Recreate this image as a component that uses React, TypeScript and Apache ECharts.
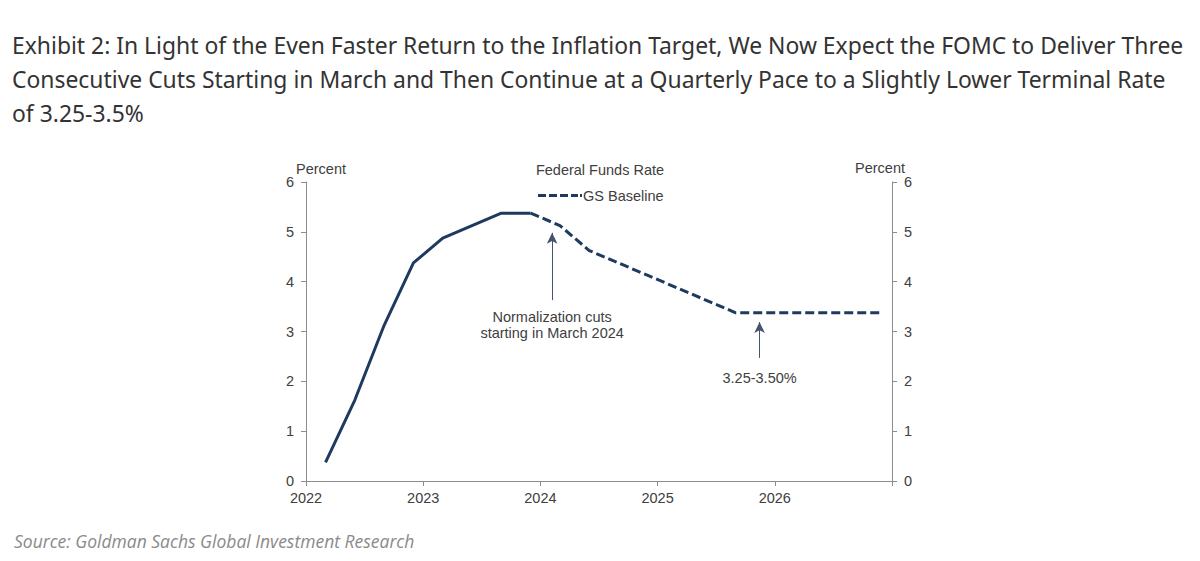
import React, { useEffect, useRef } from "react";
import * as echarts from "echarts";

const titleLines = [
  "Exhibit 2: In Light of the Even Faster Return to the Inflation Target, We Now Expect the FOMC to Deliver Three",
  "Consecutive Cuts Starting in March and Then Continue at a Quarterly Pace to a Slightly Lower Terminal Rate",
  "of 3.25-3.5%",
];
const sourceText = "Source: Goldman Sachs Global Investment Research";
const chartTitle = "Federal Funds Rate";
const yAxisName = "Percent";

const actualDates = ["2022-03", "2022-06", "2022-09", "2022-12", "2023-03", "2023-06", "2023-09", "2023-12"];
const actualValues = [0.375, 1.625, 3.125, 4.375, 4.875, 5.125, 5.375, 5.375];

const baselineDates = [
  "2023-12", "2024-03", "2024-06", "2024-09", "2024-12", "2025-03", "2025-06",
  "2025-09", "2025-12", "2026-03", "2026-06", "2026-09", "2026-12",
];
const baselineValues = [5.375, 5.125, 4.625, 4.375, 4.125, 3.875, 3.625, 3.375, 3.375, 3.375, 3.375, 3.375, 3.375];

const yearTicks = [2022, 2023, 2024, 2025, 2026];

// annotation arrows in data coordinates: [x, yFrom, yTo]
const arrow1 = [2024.1, 3.63, 4.98];
const arrow1Text = "Normalization cuts\nstarting in March 2024";
const arrow2 = [2025.87, 2.47, 3.19];
const arrow2Text = "3.25-3.50%";

const toYear = (d: string) => {
  const [y, m] = d.split("-").map(Number);
  return y + (m - 1) / 12;
};

const NAVY = "#1f3a5f";
const TEXT = "#404040";
const AXIS = "#8c8c8c";
const FONT = "'Liberation Sans', Arial, sans-serif";
const FS = 14.5;
const DASH_ICON = "path://M0,0h8v3h-8z M11,0h8v3h-8z M22,0h8v3h-8z M33,0h7v3h-7z M42,0h2v3h-2z";

export default function App() {
  const ref = useRef<HTMLDivElement>(null);
  useEffect(() => {
    if (!ref.current) return;
    const chart = echarts.init(ref.current, undefined, { renderer: "svg" });
    const axisLabel = { color: TEXT, fontFamily: FONT, fontSize: FS };
    const yAxisBase = {
      type: "value" as const,
      min: 0,
      max: 6,
      interval: 1,
      splitLine: { show: false },
      axisLine: { show: true, lineStyle: { color: AXIS, width: 1 } },
      axisTick: { show: true, length: 5, lineStyle: { color: AXIS } },
    };
    const arrowLine = (a: number[], text: string, dist: number) => [
      {
        coord: [a[0], a[1]],
        symbol: "none",
        label: {
          show: true,
          position: "start",
          formatter: text,
          color: TEXT,
          fontFamily: FONT,
          fontSize: FS,
          lineHeight: 16,
          align: "center",
          distance: dist,
        },
      },
      { coord: [a[0], a[2]], symbol: "arrow", symbolSize: [8, 11] },
    ];
    chart.setOption({
      animation: false,
      grid: { left: 306, right: 308, top: 182, bottom: 80 },
      legend: {
        data: [{ name: "GS Baseline", icon: DASH_ICON }],
        left: 538,
        top: 188,
        padding: 0,
        itemWidth: 44,
        itemHeight: 3,
        itemStyle: { color: NAVY },
        textStyle: { color: TEXT, fontFamily: FONT, fontSize: FS, padding: [0, 0, 0, -4] },
      },
      xAxis: {
        type: "value",
        min: 2022,
        max: 2027,
        interval: 1,
        splitLine: { show: false },
        axisLine: { lineStyle: { color: AXIS, width: 1 } },
        axisTick: { show: true, length: 5, lineStyle: { color: AXIS } },
        axisLabel: {
          ...axisLabel,
          margin: 9,
          formatter: (v: number) => (yearTicks.includes(v) ? String(v) : ""),
        },
      },
      yAxis: [
        { ...yAxisBase, position: "left", axisLabel: { ...axisLabel, margin: 12 } },
        { ...yAxisBase, position: "right", axisLabel: { ...axisLabel, margin: 12 } },
      ],
      series: [
        {
          name: "Federal Funds Rate",
          type: "line",
          symbol: "none",
          data: actualDates.map((d, i) => [toYear(d), actualValues[i]]),
          lineStyle: { color: NAVY, width: 3 },
          itemStyle: { color: NAVY },
        },
        {
          name: "GS Baseline",
          type: "line",
          symbol: "none",
          data: baselineDates.map((d, i) => [toYear(d), baselineValues[i]]),
          lineStyle: { color: NAVY, width: 3, type: [9, 4] },
          itemStyle: { color: NAVY },
          markLine: {
            silent: true,
            animation: false,
            lineStyle: { color: "#44546a", width: 1, type: "solid" },
            itemStyle: { color: NAVY },
            emphasis: { disabled: true },
            data: [arrowLine(arrow1, arrow1Text, 9), arrowLine(arrow2, arrow2Text, 12)],
          },
        },
      ],
      graphic: [
        {
          type: "text",
          left: 12,
          top: 28,
          style: {
            text: titleLines.join("\n"),
            fill: "#333333",
            font: "22.9px 'Noto Sans', sans-serif",
            lineHeight: 34,
          },
        },
        {
          type: "text",
          x: 14,
          y: 541,
          style: {
            text: sourceText,
            fill: "#8a8a8a",
            font: "italic 17.5px 'Open Sans', sans-serif",
            verticalAlign: "middle",
          },
        },
        {
          type: "text",
          x: 600,
          y: 170,
          style: {
            text: chartTitle,
            fill: TEXT,
            font: `${FS}px ${FONT}`,
            align: "center",
            verticalAlign: "middle",
          },
        },
        {
          type: "text",
          x: 296,
          y: 169,
          style: { text: yAxisName, fill: TEXT, font: `${FS}px ${FONT}`, align: "left", verticalAlign: "middle" },
        },
        {
          type: "text",
          x: 905,
          y: 168,
          style: { text: yAxisName, fill: TEXT, font: `${FS}px ${FONT}`, align: "right", verticalAlign: "middle" },
        },
      ],
    });
    return () => chart.dispose();
  }, []);
  return (
    <div
      ref={ref}
      style={{ position: "fixed", left: 0, top: 0, width: 1200, height: 561, background: "#fff" }}
    />
  );
}
